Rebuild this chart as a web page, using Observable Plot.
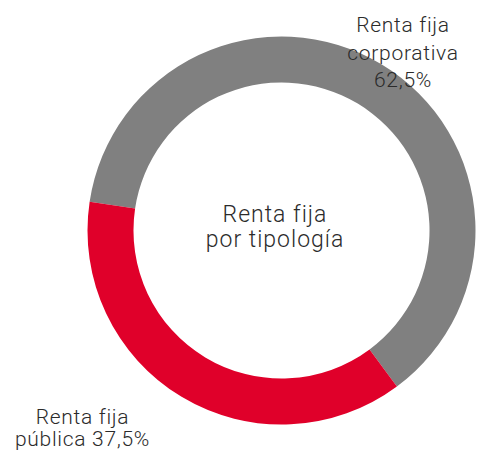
<!DOCTYPE html>
<html><head><meta charset="utf-8">
<script src="https://cdn.jsdelivr.net/npm/d3@7"></script>
<script src="https://cdn.jsdelivr.net/npm/@observablehq/plot@0.6"></script>
<style>body{margin:0;background:#fff}</style>
</head><body><div id="chart"></div>
<script>
const categories = ["Renta fija corporativa", "Renta fija pública"];
const values = [62.5, 37.5];
const sliceLabels = ["Renta fija\ncorporativa\n62,5%", "Renta fija\npública 37,5%"];
const centerTitle = "Renta fija\npor tipología";

const W = 503, H = 454, CX = 281.5, CY = 230.5, R = 194, INNER = 0.763;
const colors = {"Renta fija corporativa": "#808080", "Renta fija pública": "#E0002A"};
const data = categories.map((c, i) => ({category: c, value: values[i], label: sliceLabels[i]}));
const start = -81.5 * Math.PI / 180;
const arcs = d3.pie().value(d => d.value).sort(null).startAngle(start).endAngle(start + 2 * Math.PI)(data);

function donut(index, scales) {
  const x0 = scales.x(0), y0 = scales.y(0), r = scales.x(1) - x0;
  const arc = d3.arc().innerRadius(r * INNER).outerRadius(r);
  const g = d3.create("svg:g").attr("transform", `translate(${x0},${y0})`);
  g.selectAll("path").data(arcs).join("path").attr("d", arc).attr("fill", d => colors[d.data.category]);
  return g.node();
}

const font = "Roboto, 'Noto Sans', sans-serif";
const txt = {fill: "#2b2b2b", fontWeight: 300, textAnchor: "middle", lineAnchor: "middle"};
const chart = Plot.plot({
  width: W, height: H, margin: 0,
  x: {domain: [-1, 1], range: [CX - R, CX + R], axis: null},
  y: {domain: [-1, 1], range: [CY + R, CY - R], axis: null},
  style: {fontFamily: font, background: "white", color: "#2b2b2b"},
  marks: [
    donut,
    Plot.text([centerTitle], {...txt, x: 0, y: 0, text: d => d, dx: -7, dy: -4.3, fontSize: 23, lineHeight: 1.08}),
    Plot.text([data[0]], {...txt, frameAnchor: "top-right", text: "label", dx: -100.5, dy: 50.6, fontSize: 21, lineHeight: 1.31}),
    Plot.text([data[1]], {...txt, frameAnchor: "bottom-left", text: "label", dx: 82, dy: -26.6, fontSize: 21, lineHeight: 1.03})
  ]
});
const spacing = ["1px", "0.7px", "0.7px"];
chart.querySelectorAll('g[aria-label="text"]').forEach((g, i) => g.style.letterSpacing = spacing[i]);
document.getElementById("chart").append(chart);
</script>
</body></html>
